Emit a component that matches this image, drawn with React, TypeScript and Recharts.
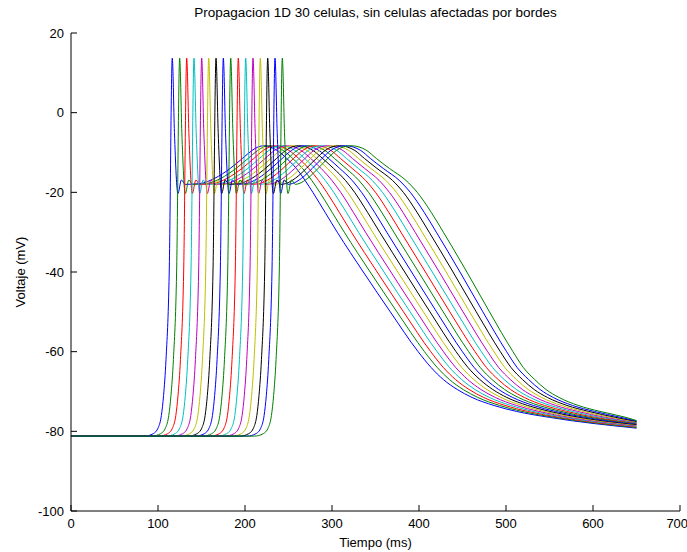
import { LineChart, Line, XAxis, YAxis } from 'recharts';

const TICKS_MS = [0, 100, 200, 300, 400, 500, 600, 700];
const TICKS_MV = [-100, -80, -60, -40, -20, 0, 20];

// Cada fila: [voltaje (mV), tiempo (ms) en que cada una de las 16 células lo alcanza].
// Reposo, pie y subida del potencial de acción.
const UPSTROKE: [number, number[]][] = [
  [-81.2, [0, 0, 0, 0, 0, 0, 0, 0, 0, 0, 0, 0, 0, 0, 0, 0]],
  [-81.2, [84.4, 92.9, 101, 109.4, 118.2, 126.3, 134.7, 143.1, 151.6, 160.3, 168.8, 177.2, 185.6, 194.1, 202.5, 210.9]],
  [-80.6, [94.4, 102.9, 111, 119.4, 128.2, 136.3, 144.7, 153.1, 161.6, 170.3, 178.8, 187.2, 195.6, 204.1, 212.5, 220.9]],
  [-79, [100.4, 108.9, 117, 125.4, 134.2, 142.3, 150.7, 159.1, 167.6, 176.3, 184.8, 193.2, 201.6, 210.1, 218.5, 226.9]],
  [-76, [103.9, 112.4, 120.5, 128.9, 137.7, 145.8, 154.2, 162.6, 171.1, 179.8, 188.3, 196.7, 205.1, 213.6, 222, 230.4]],
  [-71, [106.4, 114.9, 123, 131.4, 140.2, 148.3, 156.7, 165.1, 173.6, 182.3, 190.8, 199.2, 207.6, 216.1, 224.5, 232.9]],
  [-62, [109.2, 117.7, 125.8, 134.2, 143, 151.1, 159.5, 167.9, 176.4, 185.1, 193.6, 202, 210.4, 218.9, 227.3, 235.7]],
  [-40, [112.9, 121.4, 129.5, 137.9, 146.7, 154.8, 163.2, 171.6, 180.1, 188.8, 197.3, 205.7, 214.1, 222.6, 231, 239.4]],
];

// pico, muesca y meseta
const SPIKE: [number, number[]][] = [
  [13.7, [116.4, 124.9, 133, 141.4, 150.2, 158.3, 166.7, 175.1, 183.6, 192.3, 200.8, 209.2, 217.6, 226.1, 234.5, 242.9]],
  [-5, [118.9, 127.4, 135.5, 143.9, 152.7, 160.8, 169.2, 177.6, 186.1, 194.8, 203.3, 211.7, 220.1, 228.6, 237, 245.4]],
  [-20.3, [122.9, 131.4, 139.5, 147.9, 156.7, 164.8, 173.2, 181.6, 190.1, 198.8, 207.3, 215.7, 224.1, 232.6, 241, 249.4]],
  [-16.9, [126.9, 135.4, 143.5, 151.9, 160.7, 168.8, 177.2, 185.6, 194.1, 202.8, 211.3, 219.7, 228.1, 236.6, 245, 253.4]],
  [-18, [131.4, 139.9, 148, 156.4, 165.2, 173.3, 181.7, 190.1, 198.6, 207.3, 215.8, 224.2, 232.6, 241.1, 249.5, 257.9]],
];

// joroba de la meseta
const HUMP: [number, number[]][] = [
  [-17.8, [148, 155.6, 163.2, 170.8, 178.4, 186, 193.6, 201.2, 208.8, 216.4, 224, 231.6, 239.2, 246.8, 254.4, 262]],
  [-16.5, [165, 172.1, 179.3, 186.4, 193.5, 200.7, 207.8, 214.9, 222.1, 229.2, 236.3, 243.5, 250.6, 257.7, 264.9, 272]],
  [-14, [183, 189.7, 196.5, 203.2, 209.9, 216.7, 223.4, 230.1, 236.9, 243.6, 250.3, 257.1, 263.8, 270.5, 277.3, 284]],
  [-11.5, [197, 203.5, 210.1, 216.6, 223.1, 229.7, 236.2, 242.7, 249.3, 255.8, 262.3, 268.9, 275.4, 281.9, 288.5, 295]],
  [-9.5, [208, 214.5, 220.9, 227.4, 233.9, 240.3, 246.8, 253.3, 259.7, 266.2, 272.7, 279.1, 285.6, 292.1, 298.5, 305]],
  [-8.6, [215, 221.5, 228.1, 234.6, 241.1, 247.7, 254.2, 260.7, 267.3, 273.8, 280.3, 286.9, 293.4, 299.9, 306.5, 313]],
  [-8.3, [222, 228.7, 235.3, 242, 248.7, 255.3, 262, 268.7, 275.3, 282, 288.7, 295.3, 302, 308.7, 315.3, 322]],
  [-8.6, [229, 235.8, 242.6, 249.4, 256.2, 263, 269.8, 276.6, 283.4, 290.2, 297, 303.8, 310.6, 317.4, 324.2, 331]],
  [-9.5, [237, 243.9, 250.7, 257.6, 264.5, 271.3, 278.2, 285.1, 291.9, 298.8, 305.7, 312.5, 319.4, 326.3, 333.1, 340]],
  [-11.5, [248, 254.9, 261.7, 268.6, 275.5, 282.3, 289.2, 296.1, 302.9, 309.8, 316.7, 323.5, 330.4, 337.3, 344.1, 351]],
  [-14, [259, 266.1, 273.3, 280.4, 287.5, 294.7, 301.8, 308.9, 316.1, 323.2, 330.3, 337.5, 344.6, 351.7, 358.9, 366]],
  [-17, [269, 276.7, 284.5, 292.2, 299.9, 307.7, 315.4, 323.1, 330.9, 338.6, 346.3, 354.1, 361.8, 369.5, 377.3, 385]],
];

// repolarización
const REPOL: [number, number[]][] = [
  [-20, [278, 286, 294, 302, 310, 318, 326, 334, 342, 350, 358, 366, 374, 382, 390, 398]],
  [-25, [292, 300.1, 308.3, 316.4, 324.5, 332.7, 340.8, 348.9, 357.1, 365.2, 373.3, 381.5, 389.6, 397.7, 405.9, 414]],
  [-30, [306, 314.1, 322.3, 330.4, 338.5, 346.7, 354.8, 362.9, 371.1, 379.2, 387.3, 395.5, 403.6, 411.7, 419.9, 428]],
  [-40, [336, 343.9, 351.9, 359.8, 367.7, 375.7, 383.6, 391.5, 399.5, 407.4, 415.3, 423.3, 431.2, 439.1, 447.1, 455]],
  [-50, [367, 374.6, 382.2, 389.8, 397.4, 405, 412.6, 420.2, 427.8, 435.4, 443, 450.6, 458.2, 465.8, 473.4, 481]],
  [-60, [399, 406.3, 413.5, 420.8, 428.1, 435.3, 442.6, 449.9, 457.1, 464.4, 471.7, 478.9, 486.2, 493.5, 500.7, 508]],
  [-64, [414, 421.1, 428.1, 435.2, 442.3, 449.3, 456.4, 463.5, 470.5, 477.6, 484.7, 491.7, 498.8, 505.9, 512.9, 520]],
  [-67, [428, 435, 442, 449, 456, 463, 470, 477, 484, 491, 498, 505, 512, 519, 526, 533]],
  [-69.5, [444, 450.8, 457.6, 464.4, 471.2, 478, 484.8, 491.6, 498.4, 505.2, 512, 518.8, 525.6, 532.4, 539.2, 546]],
  [-71.5, [461, 467.7, 474.3, 481, 487.7, 494.3, 501, 507.7, 514.3, 521, 527.7, 534.3, 541, 547.7, 554.3, 561]],
  [-73.5, [486, 492.5, 498.9, 505.4, 511.9, 518.3, 524.8, 531.3, 537.7, 544.2, 550.7, 557.1, 563.6, 570.1, 576.5, 583]],
  [-75, [512, 518.4, 524.8, 531.2, 537.6, 544, 550.4, 556.8, 563.2, 569.6, 576, 582.4, 588.8, 595.2, 601.6, 608]],
  [-76.5, [550, 555.9, 561.7, 567.6, 573.5, 579.3, 585.2, 591.1, 596.9, 602.8, 608.7, 614.5, 620.4, 626.3, 632.1, 638]],
];

const END_MS = 650;
const END_MV = [-79.2, -79.05, -78.9, -78.75, -78.6, -78.45, -78.3, -78.15, -78.0, -77.9, -77.8, -77.7, -77.6, -77.5, -77.4, -77.3];

// orden de colores por defecto de MATLAB: b g r c m y k
const COLORS = ['#0000ff', '#008000', '#ff0000', '#00bfbf', '#bf00bf', '#bfbf00', '#000000'];

const FONT = '"Liberation Sans", Arial, Helvetica, sans-serif';

const ROWS = [...UPSTROKE, ...SPIKE, ...HUMP, ...REPOL];

const series = END_MV.map((endMv, i) => [
  ...ROWS.map(([v, ms]) => ({ t: ms[i], v })),
  { t: END_MS, v: endMv },
]);

function YTitle(props: any) {
  const vb = props.viewBox || { x: 0, y: 33, width: 71, height: 478 };
  const cx = vb.x + 25;
  const cy = vb.y + vb.height / 2;
  return (
    <text
      x={cx}
      y={cy}
      transform={`rotate(-90 ${cx} ${cy})`}
      textAnchor="middle"
      fill="#000"
      fontSize={13}
      fontFamily={FONT}
    >
      Voltaje (mV)
    </text>
  );
}

export default function App() {
  const tickStyle = { fill: '#000', fontSize: 13, fontFamily: FONT };
  return (
    <div style={{ position: 'absolute', left: 0, top: 0, width: 687, height: 552, background: '#fff' }}>
      <div
        style={{
          position: 'absolute',
          left: 71,
          top: 5,
          width: 609,
          textAlign: 'center',
          fontFamily: FONT,
          fontSize: 13.5,
          lineHeight: '15px',
          color: '#000',
        }}
      >
        Propagacion 1D 30 celulas, sin celulas afectadas por bordes
      </div>
      <LineChart width={687} height={552} margin={{ top: 33, right: 7, bottom: 0, left: 0 }}>
        <XAxis
          dataKey="t"
          type="number"
          domain={[0, 700]}
          ticks={TICKS_MS}
          allowDataOverflow
          height={41}
          tickSize={-6}
          tickMargin={14}
          stroke="#000"
          tick={tickStyle}
          label={{ value: 'Tiempo (ms)', position: 'insideBottom', offset: 5, fill: '#000', fontSize: 13, fontFamily: FONT }}
        />
        <XAxis
          xAxisId="top"
          orientation="top"
          type="number"
          domain={[0, 700]}
          ticks={TICKS_MS}
          allowDataOverflow
          height={0}
          tickSize={-6}
          tick={false}
          stroke="#000"
        />
        <YAxis
          type="number"
          domain={[-100, 20]}
          ticks={TICKS_MV}
          allowDataOverflow
          width={71}
          tickSize={-6}
          tickMargin={13}
          stroke="#000"
          tick={tickStyle}
          label={YTitle}
        />
        <YAxis
          yAxisId="right"
          orientation="right"
          type="number"
          domain={[-100, 20]}
          ticks={TICKS_MV}
          allowDataOverflow
          width={0}
          tickSize={-6}
          tick={false}
          stroke="#000"
        />
        {series.map((pts, i) => (
          <Line
            key={i}
            data={pts}
            dataKey="v"
            type="monotone"
            stroke={COLORS[i % COLORS.length]}
            strokeWidth={1}
            dot={false}
            activeDot={false}
            isAnimationActive={false}
          />
        ))}
      </LineChart>
    </div>
  );
}
